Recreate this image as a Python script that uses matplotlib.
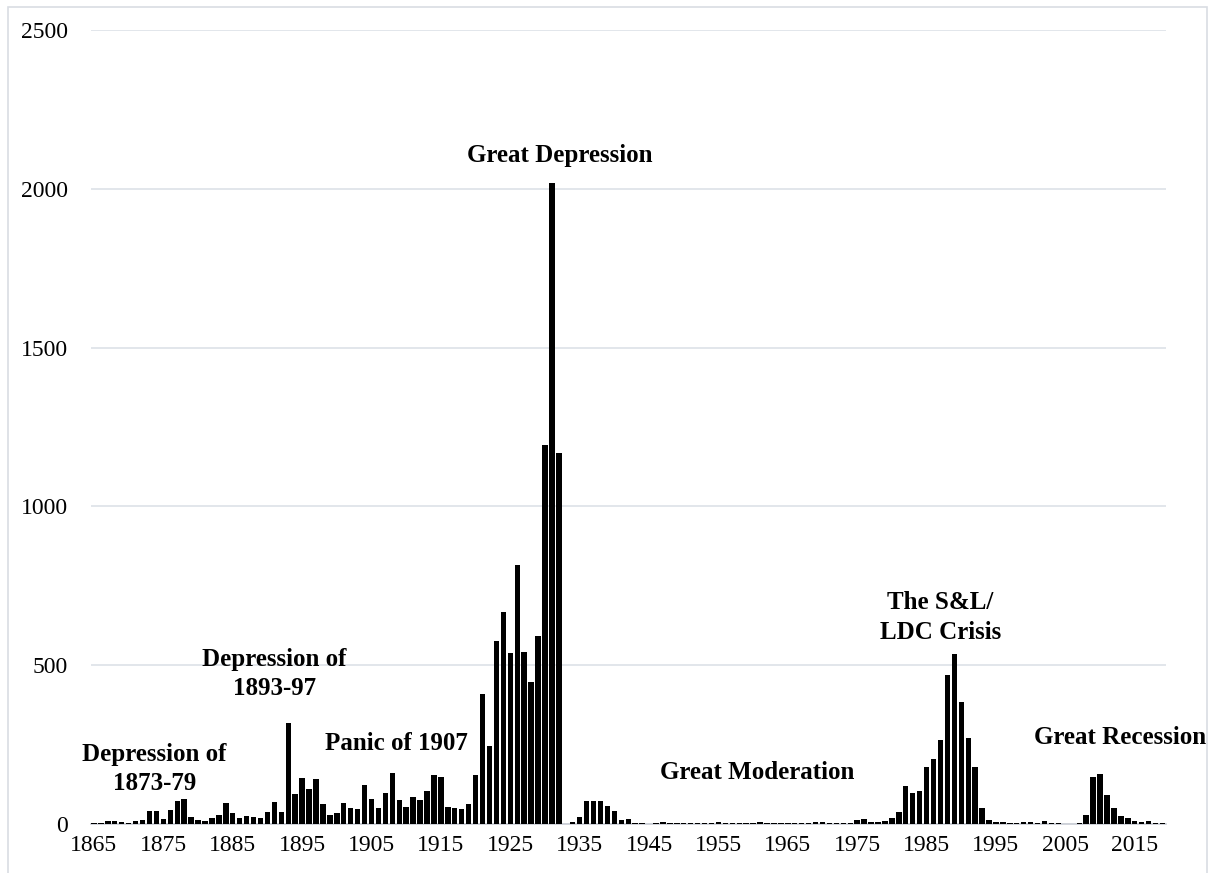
import numpy as np
import matplotlib
matplotlib.use('Agg')
from matplotlib import pyplot as plt
from matplotlib.patches import Rectangle

plt.rcParams['font.family'] = ['Liberation Serif', 'DejaVu Serif']

years = np.arange(1865, 2020)
failures = [
    3, 3, 9, 9, 6,                                    # 1865-1869
    2, 10, 13, 42, 42, 15, 45, 74, 79, 23,            # 1870s
    12, 10, 20, 28, 66, 34, 20, 25, 23, 18,           # 1880s
    39, 68, 39, 318, 93, 146, 111, 141, 62, 28,       # 1890s
    34, 66, 49, 47, 122, 79, 49, 98, 160, 76,         # 1900s
    55, 84, 77, 103, 153, 148, 55, 50, 47, 63,        # 1910s
    155, 408, 247, 576, 667, 538, 817, 542, 446, 591, # 1920s
    1194, 2017, 1168, 0, 6, 23, 71, 73, 73, 57,       # 1930s
    41, 12, 17, 4, 2, 1, 2, 5, 3, 4,                  # 1940s
    3, 2, 3, 3, 3, 5, 3, 3, 3, 3,                     # 1950s
    2, 5, 2, 2, 3, 4, 4, 3, 3, 7,                     # 1960s
    5, 4, 3, 3, 3, 12, 15, 5, 5, 9,                   # 1970s
    20, 39, 120, 99, 105, 181, 204, 263, 470, 534,    # 1980s
    384, 271, 181, 50, 13, 6, 5, 2, 3, 7,             # 1990s
    5, 4, 10, 3, 4, 0, 0, 3, 28, 147,                 # 2000s
    157, 92, 51, 24, 18, 8, 5, 8, 3, 3,               # 2010s
]

tick_years = np.arange(1865, 2016, 10)

episodes = [
    ('Depression of\n1873-79', 1873.7, 173),
    ('Depression of\n1893-97', 1891.0, 472),
    ('Panic of 1907', 1908.6, 252),
    ('Great Depression', 1932.1, 2106),
    ('Great Moderation', 1960.6, 161),
    ('The S&L/\nLDC Crisis', 1987.0, 650),
    ('Great Recession', 2012.9, 274),
]

fig = plt.figure(figsize=(12.1, 8.73), dpi=100)
ax = fig.add_axes([0.0748, 0.0561, 0.8888, 0.9095])

ax.bar(years, failures, width=0.78, color='black', zorder=3)

ax.set_xlim(1864.5, 2019.5)
ax.set_ylim(0, 2500)
ax.set_yticks(np.arange(0, 2501, 500))
ax.set_xticks(tick_years)
ax.tick_params(axis='both', length=0, labelsize=17)
ax.tick_params(axis='y', pad=16)
ax.tick_params(axis='x', pad=8)

ax.grid(axis='y', color='#dde1e8', linewidth=1.2, zorder=0)
for side in ['top', 'right', 'left']:
    ax.spines[side].set_visible(False)
ax.spines['bottom'].set_color('#c8ccd4')
ax.spines['bottom'].set_linewidth(1.2)

for label, x, y in episodes:
    ax.text(x, y, label, ha='center', va='center', fontsize=18,
            fontweight='bold', linespacing=1.35, zorder=4)

# light frame round the whole chart
fig.patches.append(Rectangle((8 / 1210, -0.01), 1199 / 1210, 1.01 - 7 / 873,
                             transform=fig.transFigure, fill=False,
                             edgecolor='#d9dde3', linewidth=1.2))

plt.savefig('out.png', dpi=100)
